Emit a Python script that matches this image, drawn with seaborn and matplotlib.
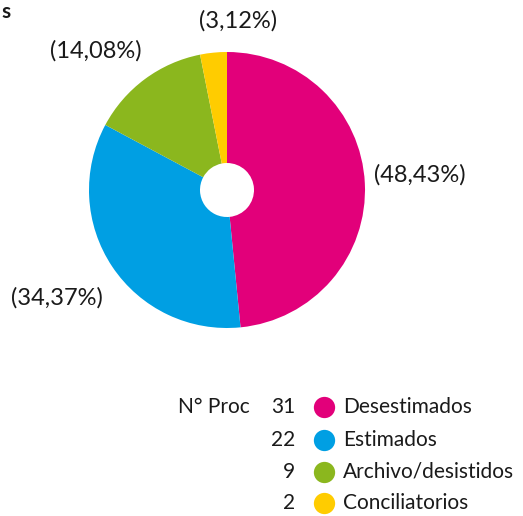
import matplotlib
matplotlib.use("Agg")
from matplotlib import pyplot as plt
import seaborn as sns

categories = ['Desestimados', 'Estimados', 'Archivo/desistidos', 'Conciliatorios']
counts = [31, 22, 9, 2]
pct_labels = ['(48,43%)', '(34,37%)', '(14,08%)', '(3,12%)']
colors = ['#E2007A', '#009FE3', '#8BB71E', '#FFCC00']

sns.set_theme(style='white')
plt.rcParams['font.family'] = ['Lato', 'DejaVu Sans']

W, H = 523, 516
fig = plt.figure(figsize=(W / 100, H / 100), dpi=100)
ax = fig.add_axes([0, 0, 1, 1])

cx, cy, r = 227, H - 190, 138
ax.pie(counts, colors=colors, startangle=90, counterclock=False,
       center=(cx, cy), radius=r, frame=True,
       wedgeprops=dict(width=r - 27, linewidth=0))
ax.set_xlim(0, W)
ax.set_ylim(0, H)
ax.set_aspect('equal')
ax.axis('off')

label_pos = [(420, 175), (57, 298), (96, 51), (238, 21)]
for txt, (x, y) in zip(pct_labels, label_pos):
    ax.text(x, H - y, txt, fontsize=17, ha='center', va='center', color='#1a1a1a')

# heading fragment at top-left
ax.text(1, H - 2, 's', fontsize=15, fontweight='bold', ha='left', va='top', color='#1a1a1a')

rows_y = [407, 440, 472, 503]
ax.text(178, H - rows_y[0], 'N° Proc', fontsize=15, ha='left', va='center', color='#1a1a1a')
for cat, n, col, y in zip(categories, counts, colors, rows_y):
    ax.text(295, H - y, str(n), fontsize=15, ha='right', va='center', color='#1a1a1a')
    ax.scatter([323.5], [H - y], s=235, color=col, linewidths=0)
    ax.text(343, H - y, cat, fontsize=15, ha='left', va='center', color='#1a1a1a')

fig.savefig('out.png', dpi=100)
